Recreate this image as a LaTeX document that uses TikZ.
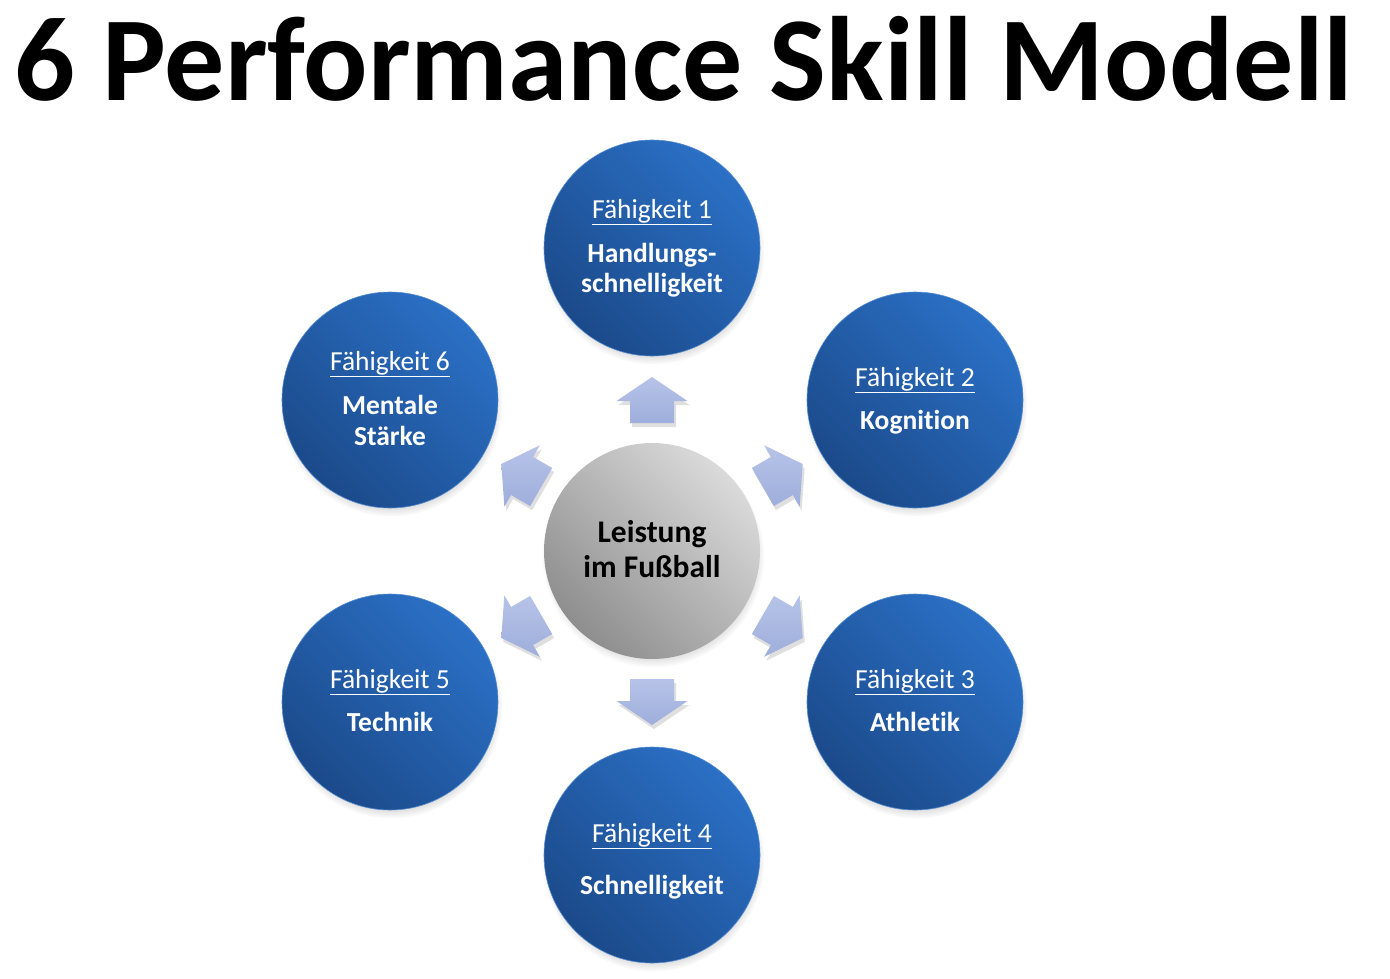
\documentclass[tikz,border=0pt]{standalone}
\usepackage{fontspec}
\setmainfont{Carlito}[Ligatures={NoCommon}]
\usetikzlibrary{shadows}
\definecolor{bluelight}{HTML}{2B70C6}
\definecolor{bluedark}{HTML}{1B4A8A}
\definecolor{greylight}{HTML}{DADADA}
\definecolor{greydark}{HTML}{8E8E8E}
\definecolor{arrlight}{HTML}{B7C3E8}
\definecolor{arrdark}{HTML}{9EAEDB}
\tikzset{
  skill/.style={circle, minimum size=216pt, inner sep=0pt, shading=axis,
    top color=bluelight, bottom color=bluedark, shading angle=-45,
    draw=bluelight!80!white, line width=0.6pt,
    circular drop shadow={shadow xshift=1pt, shadow yshift=-5pt, shadow scale=1.03, opacity=0.45}},
  hub/.style={circle, minimum size=216pt, inner sep=0pt, shading=axis,
    top color=greylight, bottom color=greydark, shading angle=-45,
    circular drop shadow={shadow xshift=1pt, shadow yshift=-5pt, shadow scale=1.03, opacity=0.4}},
  skilllabel/.style={anchor=base, text=white, font=\fontsize{27.5}{30}\selectfont},
  skillname/.style={anchor=base, text=white, font=\fontsize{27.5}{30}\selectfont\bfseries},
  hubtext/.style={anchor=base, text=black, font=\fontsize{31.5}{34}\selectfont\bfseries},
  arrowshape/.style={shading=axis, top color=arrlight, bottom color=arrdark,
    drop shadow={shadow xshift=2pt, shadow yshift=-4pt, opacity=0.25}},
  titletext/.style={anchor=base, font=\fontsize{120}{122}\selectfont\bfseries}
}
\begin{document}
\begin{tikzpicture}[x=1pt,y=-1pt]
\useasboundingbox[fill=white] (0,0) rectangle (1390,978);
\node[titletext] (title) at (684,100) {6 Performance Skill Modell};

% arrows
\foreach \ang/\nm in {90/ar1,30/ar2,-30/ar3,-90/ar4,-150/ar5,150/ar6}{
  \begin{scope}[shift={(652,551)}, rotate=\ang]
    \path[arrowshape] (128,-22) -- (150,-22) -- (150,-35.5) -- (174,0)
       -- (150,35.5) -- (150,22) -- (128,22) -- cycle;
    \coordinate (\nm) at (151,0);
  \end{scope}
}

\node[hub] (hub) at (652,551) {};
\node[skill] (s1) at (652,248) {};
\node[skill] (s2) at (915,400) {};
\node[skill] (s3) at (915,702) {};
\node[skill] (s4) at (652,855) {};
\node[skill] (s5) at (390,702) {};
\node[skill] (s6) at (390,400) {};

\node[hubtext] (h1) at (652,542) {Leistung};
\node[hubtext] (h2) at (652,577) {im Fußball};

\node[skilllabel] (l1) at (652,218) {\underline{Fähigkeit 1}};
\node[skillname] (n1a) at (652,262) {Handlungs-};
\node[skillname] (n1b) at (652,292) {schnelligkeit};

\node[skilllabel] (l2) at (915,386) {\underline{Fähigkeit 2}};
\node[skillname] (n2) at (915,429) {Kognition};

\node[skilllabel] (l3) at (915,688) {\underline{Fähigkeit 3}};
\node[skillname] (n3) at (915,731) {Athletik};

\node[skilllabel] (l4) at (652,842) {\underline{Fähigkeit 4}};
\node[skillname] (n4) at (652,894) {Schnelligkeit};

\node[skilllabel] (l5) at (390,688) {\underline{Fähigkeit 5}};
\node[skillname] (n5) at (390,731) {Technik};

\node[skilllabel] (l6) at (390,370) {\underline{Fähigkeit 6}};
\node[skillname] (n6a) at (390,414) {Mentale};
\node[skillname] (n6b) at (390,445) {Stärke};
\end{tikzpicture}
\end{document}
